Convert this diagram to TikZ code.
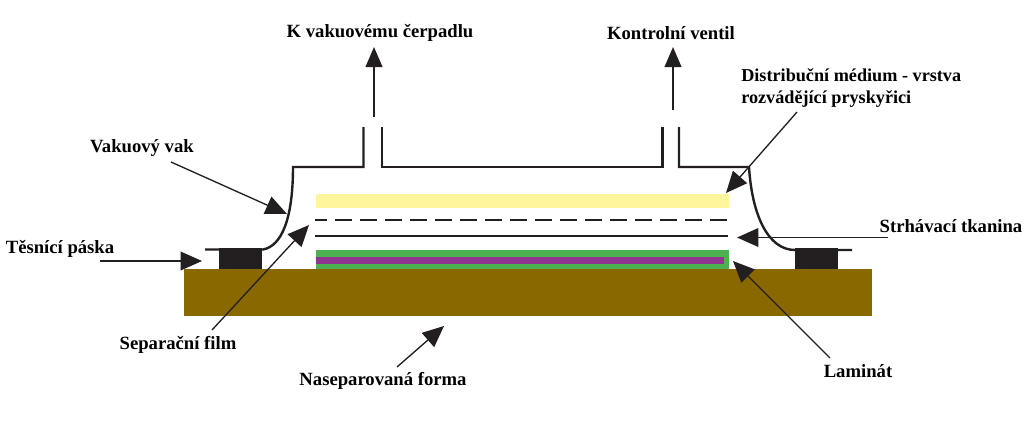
\documentclass[tikz,border=0pt]{standalone}
\usepackage{fontspec}
\setmainfont{Liberation Serif}
\usetikzlibrary{arrows.meta}
\definecolor{mold}{HTML}{8A6800}
\definecolor{ylw}{HTML}{FFF59D}
\definecolor{grn}{HTML}{4CB14F}
\definecolor{prp}{HTML}{90358F}
\definecolor{ink}{HTML}{231F20}
\tikzset{
  lbl/.style={font=\bfseries\fontsize{14}{16.5}\selectfont,text=black,inner sep=0pt,align=center},
  ptr/.style={draw=ink,line width=1pt,-{Triangle[length=16pt,width=14pt,fill=ink]}},
  upptr/.style={ptr,line width=1.4pt,-{Triangle[length=15pt,width=12.5pt,fill=ink]}},
  bag/.style={draw=ink,line width=1.8pt,line join=miter},
}
\begin{document}
\begin{tikzpicture}[x=0.75pt,y=-0.75pt]
\useasboundingbox (0,0) rectangle (1024,439);
\fill[mold] (184,269) rectangle (872,316);
\fill[ink] (219,248) rectangle (262,269);
\fill[ink] (795,248) rectangle (838,269);
\fill[ylw] (316,194) rectangle (729,208);
\fill[grn] (316,250) rectangle (729,269);
\fill[prp] (316,257) rectangle (724,264);
\draw[ink,line width=1.8pt,dash pattern=on 12.75pt off 6pt,dash phase=3.75pt] (315,220) -- (728,220);
\draw[ink,line width=1.8pt] (315,236) -- (728,236);
% bag
\draw[bag] (205,249.5) -- (263,249.5) .. controls (282,246) and (293,218) .. (293,167) -- (363.5,167) -- (363.5,127);
\draw[bag] (382,127) -- (382,167) -- (662.5,167) -- (662.5,127);
\draw[bag] (679,127) -- (679,167) -- (749,167) .. controls (752,215) and (768,250) .. (795,250) -- (852,250);
% labels
\node[lbl] (pump) at (380,33) {K vakuovému čerpadlu};
\node[lbl] (valve) at (671,33) {Kontrolní ventil};
\node[lbl,align=left,anchor=west,font=\bfseries\fontsize{13.65}{16.5}\selectfont] (dist) at (741,88) {Distribuční médium - vrstva\\rozvádějící pryskyřici};
\node[lbl] (vak) at (142,148) {Vakuový vak};
\node[lbl] (tes) at (60,249) {Těsnící páska};
\node[lbl] (strh) at (951,226) {Strhávací tkanina};
\node[lbl] (sep) at (178,345) {Separační film};
\node[lbl] (nas) at (383,381) {Naseparovaná forma};
\node[lbl] (lam) at (858,371) {Laminát};
% pointers
\coordinate (pumpA) at (374,117);
\coordinate (pumpB) at (374,47);
\coordinate (valveA) at (673,110);
\coordinate (valveB) at (673,47);
\coordinate (distA) at (797,112);
\coordinate (distB) at (726,193);
\coordinate (vakA) at (171,162);
\coordinate (vakB) at (287,214);
\coordinate (tesA) at (100,261);
\coordinate (tesB) at (202,261);
\coordinate (strhA) at (888,237.5);
\coordinate (strhB) at (737,237.5);
\coordinate (sepA) at (212,330);
\coordinate (sepB) at (309,225);
\coordinate (nasA) at (397,367);
\coordinate (nasB) at (444,326);
\coordinate (lamA) at (830,358);
\coordinate (lamB) at (733,261);
\draw[upptr] (pumpA) -- (pumpB);
\draw[upptr] (valveA) -- (valveB);
\draw[ptr] (distA) -- (distB);
\draw[ptr] (vakA) -- (vakB);
\draw[ptr] (tesA) -- (tesB);
\draw[ptr] (strhA) -- (strhB);
\draw[ptr] (sepA) -- (sepB);
\draw[ptr] (nasA) -- (nasB);
\draw[ptr] (lamA) -- (lamB);
\end{tikzpicture}
\end{document}
